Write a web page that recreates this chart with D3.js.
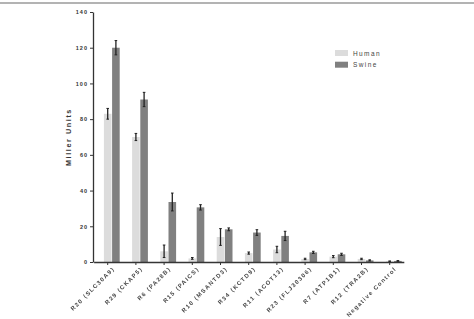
<!DOCTYPE html>
<html>
<head>
<meta charset="utf-8">
<script src="https://cdn.jsdelivr.net/npm/d3@7"></script>
<style>
  body { margin: 0; background: #fff; }
  text { font-family: "Liberation Sans", Arial, sans-serif; }
</style>
</head>
<body>
<div id="chart"></div>
<script>
const categories = ["R20 (SLC30A9)", "R29 (CKAP5)", "R6 (PA28B)", "R15 (PAICS)", "R10 (MSANTD3)",
    "R34 (KCTD9)", "R11 (ACOT13)", "R23 (FLJ30306)", "R7 (ATP1B1)", "R12 (TRA2B)", "Negative Control"];
const humanValues = [83, 70, 6, 2, 14, 5, 7, 1.7, 3, 1.7, 0.4];
const humanErrors = [3, 2, 3.5, 0.5, 4.7, 0.6, 1.8, 0.4, 0.6, 0.4, 0.2];
const swineValues = [120, 91, 33.6, 30.6, 18.3, 16.5, 14.6, 5.4, 4.3, 0.9, 0.6];
const swineErrors = [4, 4, 5, 1.5, 0.8, 1.6, 2.6, 0.6, 0.6, 0.3, 0.2];
const yTicks = [0, 20, 40, 60, 80, 100, 120, 140];
const seriesNames = ["Human", "Swine"];
const seriesColors = ["#dcdcdc", "#808080"];

const W = 474, H = 319;
const svg = d3.select("#chart").append("svg")
    .attr("width", W)
    .attr("height", H);

// frame line on top
svg.append("line")
    .attr("x1", 0).attr("x2", W)
    .attr("y1", 3).attr("y2", 3)
    .attr("stroke", "#9a9a9a")
    .attr("stroke-width", 1.5);

const x = d3.scaleBand()
    .domain(categories)
    .range([93.6, 403.8]);

const y = d3.scaleLinear()
    .domain([0, 140])
    .range([262, 12]);

const barW = 7.6;
const series = [
    {name: "Human", values: humanValues, errors: humanErrors, dx: -barW / 2},
    {name: "Swine", values: swineValues, errors: swineErrors, dx: barW / 2 + 0.6}
];

series.forEach((s, si) => {
    const rows = categories.map((c, i) => ({c, v: s.values[i], e: s.errors[i]}));
    const g = svg.append("g");
    g.selectAll("rect")
        .data(rows)
        .enter()
        .append("rect")
        .attr("x", d => x(d.c) + x.bandwidth() / 2 + s.dx)
        .attr("width", barW)
        .attr("y", d => y(d.v))
        .attr("height", d => y(0) - y(d.v))
        .attr("fill", seriesColors[si]);

    // error bars
    const cx = d => x(d.c) + x.bandwidth() / 2 + s.dx + barW / 2;
    g.selectAll(".err")
        .data(rows)
        .enter()
        .append("line")
        .attr("x1", cx).attr("x2", cx)
        .attr("y1", d => y(d.v + d.e))
        .attr("y2", d => y(Math.max(0, d.v - d.e)))
        .attr("stroke", "#222")
        .attr("stroke-width", 1.3);
    [1, -1].forEach(sign => {
        g.selectAll(".cap" + sign)
            .data(rows)
            .enter()
            .append("line")
            .attr("x1", d => cx(d) - 1.3).attr("x2", d => cx(d) + 1.3)
            .attr("y1", d => y(Math.max(0, d.v + sign * d.e)))
            .attr("y2", d => y(Math.max(0, d.v + sign * d.e)))
            .attr("stroke", "#222")
            .attr("stroke-width", 1);
    });
});

// y axis
const yAxis = svg.append("g")
    .attr("transform", "translate(93,0)")
    .call(d3.axisLeft(y).tickValues(yTicks).tickSize(3).tickSizeOuter(0).tickPadding(2));
yAxis.select(".domain").attr("stroke", "#333").attr("stroke-width", 1.3);
yAxis.selectAll(".tick line").attr("stroke", "#333");
yAxis.selectAll("text")
    .attr("font-size", 5.5)
    .attr("font-weight", "bold")
    .attr("letter-spacing", 1)
    .attr("fill", "#333")
    .style("font-family", "Liberation Sans, Arial, sans-serif");

// x axis
const xAxis = svg.append("g")
    .attr("transform", "translate(0,262)")
    .style("opacity", 0.99)
    .call(d3.axisBottom(x).tickSize(3).tickSizeOuter(0).tickPadding(3));
xAxis.select(".domain").attr("stroke", "#333").attr("stroke-width", 1.3);
xAxis.selectAll(".tick line").attr("stroke", "#333");
xAxis.selectAll("text")
    .attr("font-size", 5.9)
    .attr("font-weight", "bold")
    .attr("letter-spacing", 1.3)
    .attr("fill", "#444")
    .style("font-family", "Liberation Sans, Arial, sans-serif")
    .attr("text-anchor", "end")
    .attr("dy", 0)
    .attr("transform", "translate(3,3) rotate(-45)");

// y label
svg.append("text")
    .attr("transform", "translate(71,137) rotate(-90)")
    .attr("text-anchor", "middle")
    .attr("font-size", 7.2)
    .attr("font-weight", "bold")
    .attr("letter-spacing", 1.6)
    .attr("fill", "#333")
    .style("opacity", 0.99)
    .text("Miller Units");

// legend
const legend = svg.append("g").attr("transform", "translate(335,50)");
seriesNames.forEach((n, i) => {
    legend.append("rect")
        .attr("x", 0).attr("y", i * 11.7)
        .attr("width", 13).attr("height", 6)
        .attr("fill", seriesColors[i]);
    legend.append("text")
        .attr("x", 18).attr("y", i * 11.7 + 5.6)
        .attr("font-size", 6.5)
        .attr("letter-spacing", 1.4)
        .attr("fill", "#444")
        .text(n);
});
</script>
</body>
</html>
